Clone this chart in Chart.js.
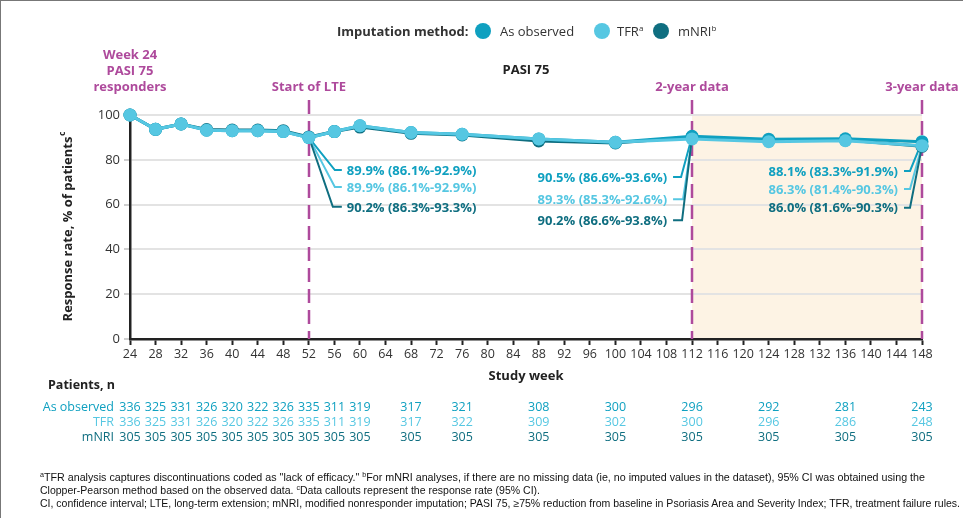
<!DOCTYPE html>
<html><head><meta charset="utf-8">
<script src="https://cdn.jsdelivr.net/npm/chart.js@4/dist/chart.umd.min.js"></script>
<style>
html,body{margin:0;padding:0;background:#fff;}
#wrap{position:relative;width:963px;height:518px;overflow:hidden;background:#fff;}
#frame{position:absolute;left:0;top:0;width:963px;height:518px;border-left:1px solid #777;border-top:1px solid #777;box-sizing:border-box;pointer-events:none;}
#c{position:absolute;left:0;top:0;}
.lg{position:absolute;font-family:"Open Sans",sans-serif;font-size:13px;color:#333;line-height:16px;white-space:nowrap;}
.dot{position:absolute;width:16px;height:16px;border-radius:50%;}
.lg sup{font-size:8px;vertical-align:5px;line-height:0;}
.fn{position:absolute;left:40px;font-family:"Liberation Sans Narrow","Liberation Sans",sans-serif;font-size:10.5px;color:#111;white-space:nowrap;line-height:13px;transform-origin:0 0;}
.fn sup{font-size:7px;vertical-align:4px;line-height:0;}
</style></head><body>
<div id="wrap">
<canvas id="c" width="963" height="518"></canvas>
<div class="lg" style="left:337px;top:23px;font-weight:bold;">Imputation method:</div>
<div class="dot" style="left:475px;top:23px;background:#0fa0c0;"></div>
<div class="lg" style="left:500px;top:23px;">As observed</div>
<div class="dot" style="left:594px;top:23px;background:#56c7e2;"></div>
<div class="lg" style="left:617px;top:23px;">TFR<sup>a</sup></div>
<div class="dot" style="left:653px;top:23px;background:#0f6e80;"></div>
<div class="lg" style="left:678px;top:23px;">mNRI<sup>b</sup></div>
<div class="fn" id="fn1" data-w="885" style="top:471px;"><sup>a</sup>TFR analysis captures discontinuations coded as "lack of efficacy." <sup>b</sup>For mNRI analyses, if there are no missing data (ie, no imputed values in the dataset), 95% CI was obtained using the</div>
<div class="fn" id="fn2" data-w="500" style="top:484px;">Clopper-Pearson method based on the observed data. <sup>c</sup>Data callouts represent the response rate (95% CI).</div>
<div class="fn" id="fn3" data-w="920" style="top:497px;">CI, confidence interval; LTE, long-term extension; mNRI, modified nonresponder imputation; PASI 75, ≥75% reduction from baseline in Psoriasis Area and Severity Index; TFR, treatment failure rules.</div>
<div id="frame"></div>
</div>
<script>
// ---------- DATA ----------
const weeks = [24,28,32,36,40,44,48,52,56,60,68,76,88,100,112,124,136,148];
const asObserved = [100,93.6,96,93.2,93,93,92.6,89.9,92.6,95.2,92.2,91.4,89.3,87.8,90.5,89.2,89.4,88.1];
const tfr        = [100,93.6,96,93.2,93,93,92.6,89.9,92.6,95.2,92.2,91.4,89.3,87.8,89.3,88.1,88.5,86.3];
const mnri       = [100,93.6,96,93.5,93.3,93.3,93,90.2,92.6,94.6,91.8,91.1,88.4,87.5,90.2,88.5,88.8,86.0];
const nAsObserved = [336,325,331,326,320,322,326,335,311,319,317,321,308,300,296,292,281,243];
const nTFR        = [336,325,331,326,320,322,326,335,311,319,317,322,309,302,300,296,286,248];
const nMNRI       = [305,305,305,305,305,305,305,305,305,305,305,305,305,305,305,305,305,305];
const seriesNames = ['As observed','TFR','mNRI'];
const callout52Text  = ['89.9% (86.1%-92.9%)','89.9% (86.1%-92.9%)','90.2% (86.3%-93.3%)'];
const callout112Text = ['90.5% (86.6%-93.6%)','89.3% (85.3%-92.6%)','90.2% (86.6%-93.8%)'];
const callout148Text = ['88.1% (83.3%-91.9%)','86.3% (81.4%-90.3%)','86.0% (81.6%-90.3%)'];
const markerWeeks = [52,112,148];
const markerLabels = ['Start of LTE','2-year data','3-year data'];
const shadeWeeks = [112,148];
const yTicks = [0,20,40,60,80,100];

// ---------- STYLE ----------
const C = {asObs:'#0fa0c0', tfr:'#56c7e2', mnri:'#0f6e80', magenta:'#ae4a9c', shade:'#fdf3e4', text:'#222'};
const seriesColors = [C.asObs, C.tfr, C.mnri];
const F = '"Open Sans", sans-serif';
const calloutLayout = [
  {week:52,  side:'right', textYs:[75.4,67.9,59.0], elbowDx:[26,26,24], endDx:33, textDx:38, texts:callout52Text},
  {week:112, side:'left',  textYs:[72.3,62.4,53.0], elbowDx:[11,9,10], endDx:19, textDx:25, texts:callout112Text},
  {week:148, side:'left',  textYs:[75.0,67.0,58.6], elbowDx:[12,12,12], endDx:18, textDx:24, texts:callout148Text}
];
const seriesData = [asObserved, tfr, mnri];

function supText(ctx, text, sup, x, y, font, supFont, align){
  ctx.font = font;
  const w1 = ctx.measureText(text).width;
  ctx.font = supFont;
  const w2 = ctx.measureText(sup).width;
  let x0 = x;
  if (align==='center') x0 = x - (w1+w2)/2;
  else if (align==='right') x0 = x - (w1+w2);
  ctx.textAlign='left';
  ctx.font = font; ctx.fillText(text, x0, y);
  ctx.font = supFont; ctx.fillText(sup, x0+w1+1, y-5);
}

const annot = {
  id:'annot',
  beforeDraw(chart){
    const {ctx, chartArea:a, scales:{x}} = chart;
    ctx.save();
    ctx.fillStyle = C.shade;
    const x1 = x.getPixelForValue(shadeWeeks[0]), x2 = x.getPixelForValue(shadeWeeks[1]);
    ctx.fillRect(x1, a.top, x2-x1, a.bottom-a.top);
    ctx.restore();
  },
  beforeDatasetsDraw(chart){
    const {ctx, chartArea:a, scales:{x,y}} = chart;
    ctx.save();
    ctx.strokeStyle = C.magenta; ctx.lineWidth = 2.5; ctx.setLineDash([14,7]);
    markerWeeks.forEach(w=>{
      const px = Math.round(x.getPixelForValue(w));
      ctx.beginPath(); ctx.moveTo(px, a.top-15); ctx.lineTo(px, a.bottom); ctx.stroke();
    });
    ctx.setLineDash([]);
    calloutLayout.forEach(co=>{
      const idx = weeks.indexOf(co.week);
      const px = x.getPixelForValue(co.week);
      const dir = co.side==='right'?1:-1;
      [0,1,2].forEach(s=>{
        const py = y.getPixelForValue(seriesData[s][idx]);
        const ty = y.getPixelForValue(co.textYs[s]);
        ctx.strokeStyle = seriesColors[s]; ctx.lineWidth = 2;
        ctx.beginPath(); ctx.moveTo(px, py);
        ctx.lineTo(px+dir*co.elbowDx[s], ty);
        ctx.lineTo(px+dir*co.endDx, ty); ctx.stroke();
        ctx.fillStyle = seriesColors[s];
        ctx.font = 'bold 13px '+F;
        ctx.textBaseline='middle';
        ctx.textAlign = co.side==='right'?'left':'right';
        ctx.fillText(co.texts[s], px+dir*co.textDx, ty+1);
      });
    });
    ctx.restore();
  },
  afterDraw(chart){
    const {ctx, chartArea:a, scales:{x,y}} = chart;
    ctx.save();
    ctx.textBaseline='middle';
    ctx.fillStyle = C.magenta; ctx.font='bold 13px '+F; ctx.textAlign='center';
    markerWeeks.forEach((w,i)=>{
      ctx.fillText(markerLabels[i], x.getPixelForValue(w), a.top-28);
    });
    const x24 = x.getPixelForValue(weeks[0]);
    ['Week 24','PASI 75','responders'].forEach((t,i)=>ctx.fillText(t, x24, a.top-60+i*16));
    ctx.fillStyle = C.text;
    ctx.fillText('PASI 75', (a.left+a.right)/2, a.top-45);
    ctx.fillText('Study week', (a.left+a.right)/2, a.bottom+37);
    ctx.save();
    ctx.translate(68, (a.top+a.bottom)/2);
    ctx.rotate(-Math.PI/2);
    supText(ctx, 'Response rate, % of patients', 'c', 0, 0, 'bold 13px '+F, 'bold 8px '+F, 'center');
    ctx.restore();
    ctx.textAlign='left'; ctx.font='bold 12.5px '+F; ctx.fillStyle=C.text;
    ctx.fillText('Patients, n', 48, a.bottom+46);
    const rows = [nAsObserved, nTFR, nMNRI];
    rows.forEach((vals,r)=>{
      const ry = a.bottom + 68 + r*15;
      ctx.fillStyle = seriesColors[r];
      ctx.font = '12.5px '+F;
      ctx.textAlign='right';
      ctx.fillText(seriesNames[r], 114, ry);
      ctx.textAlign='center';
      vals.forEach((v,i)=>ctx.fillText(String(v), x.getPixelForValue(weeks[i]), ry));
    });
    ctx.restore();
  }
};

const mk = (label, data, color, order) => ({
  label, data: weeks.map((w,i)=>({x:w, y:data[i]})),
  borderColor:color, backgroundColor:color, pointBackgroundColor:color,
  pointBorderColor:color, pointRadius:6.5, pointBorderWidth:0, borderWidth:3,
  tension:0, clip:false, order
});

new Chart(document.getElementById('c'), {
  type:'line',
  data:{ datasets:[ mk('mNRI', mnri, C.mnri, 3), mk('As observed', asObserved, C.asObs, 2), mk('TFR', tfr, C.tfr, 1) ] },
  options:{
    responsive:false, animation:false, devicePixelRatio:1,
    layout:{padding:{left:0, top:115, right:41, bottom:0}},
    plugins:{legend:{display:false}, tooltip:{enabled:false}, title:{display:false}},
    scales:{
      x:{type:'linear', min:24, max:148,
         afterFit(s){ s.height = 179; },
         afterBuildTicks(s){ s.ticks = []; for(let v=24; v<=148; v+=4) s.ticks.push({value:v}); },
         ticks:{autoSkip:false, maxRotation:0, color:'#333', font:{family:F, size:12.5}, padding:2},
         grid:{drawOnChartArea:false, drawTicks:true, tickLength:6, tickColor:'#222', tickWidth:2},
         border:{display:true, color:'#222', width:2.5}},
      y:{min:0, max:100,
         afterFit(s){ s.width = 130; },
         afterBuildTicks(s){ s.ticks = yTicks.map(v=>({value:v})); },
         ticks:{color:'#333', font:{family:F, size:13}, padding:4},
         grid:{color:'#e3e3e3', lineWidth:2, tickLength:6, tickColor:'#cfcfcf'},
         border:{display:true, color:'#222', width:2.5}}
    }
  },
  plugins:[annot]
});

document.querySelectorAll('.fn').forEach(el=>{
  const w = el.getBoundingClientRect().width;
  const target = +el.dataset.w;
  if (w>0) el.style.transform = 'scaleX('+(target/w)+')';
});
</script>
</body></html>
